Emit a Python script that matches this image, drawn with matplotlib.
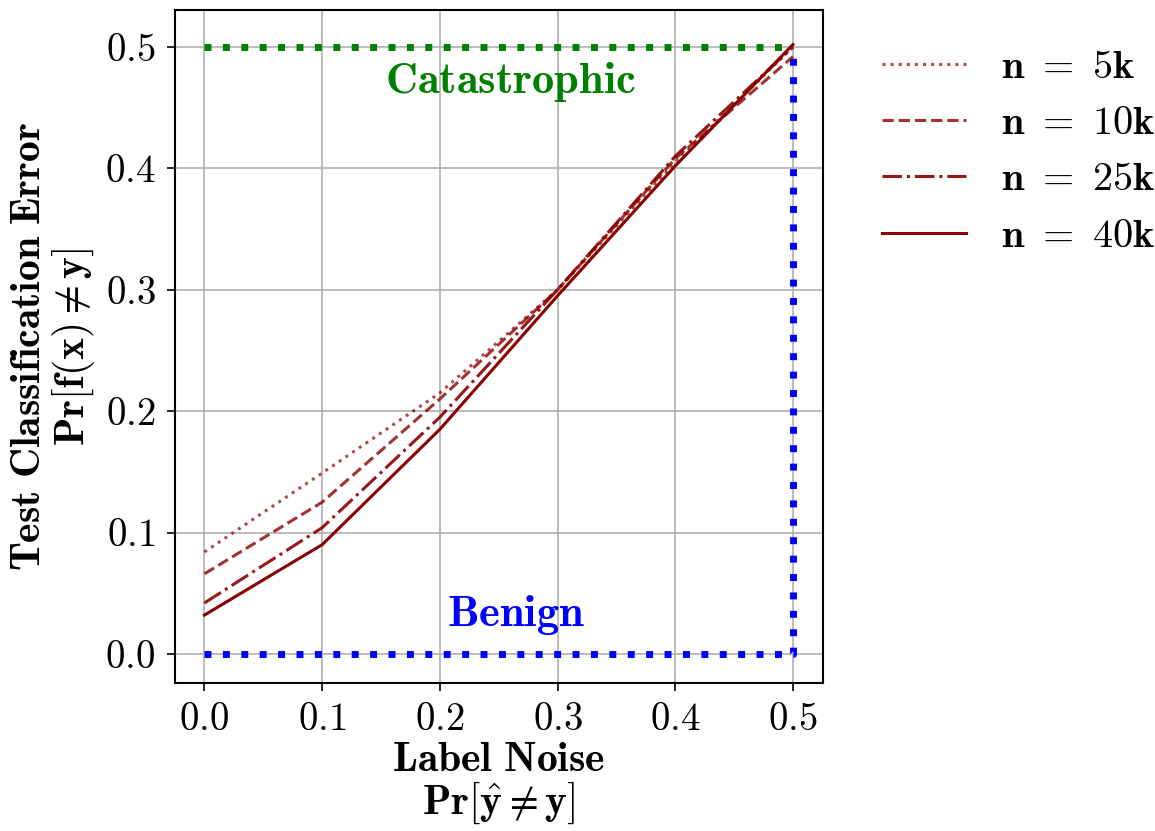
import matplotlib
matplotlib.use("Agg")
import matplotlib.pyplot as plt

plt.rcParams['mathtext.fontset'] = 'cm'
plt.rcParams['font.family'] = 'serif'
plt.rcParams['font.serif'] = ['cmr10', 'DejaVu Serif']
plt.rcParams['axes.formatter.use_mathtext'] = True

noise = [0.0, 0.1, 0.2, 0.3, 0.4, 0.5]
err_5k = [0.084, 0.149, 0.215, 0.300, 0.405, 0.500]
err_10k = [0.066, 0.125, 0.210, 0.300, 0.408, 0.492]
err_25k = [0.042, 0.104, 0.195, 0.300, 0.410, 0.500]
err_40k = [0.032, 0.090, 0.185, 0.295, 0.402, 0.502]
series_labels = [r'$\mathbf{n}\ =\ \mathbf{5k}$', r'$\mathbf{n}\ =\ \mathbf{10k}$',
                 r'$\mathbf{n}\ =\ \mathbf{25k}$', r'$\mathbf{n}\ =\ \mathbf{40k}$']

ticks = [0.0, 0.1, 0.2, 0.3, 0.4, 0.5]
tick_labels = [r'$0.0$', r'$0.1$', r'$0.2$', r'$0.3$', r'$0.4$', r'$0.5$']

fig = plt.figure(figsize=(11.55, 8.31), dpi=100)
ax = fig.add_axes([0.1515, 0.178, 0.561, 0.81])

# reference regimes
ax.plot([0.0, 0.5], [0.5, 0.5], color='green', linestyle=':', lw=5, zorder=2)
ax.plot([0.0, 0.5, 0.5], [0.0, 0.0, 0.5], color='blue', linestyle=':', lw=5, zorder=2)

styles = [':', '--', '-.', '-']
alphas = [0.7, 0.8, 0.9, 1.0]
for ys, ls, a, lab in zip([err_5k, err_10k, err_25k, err_40k], styles, alphas, series_labels):
    ax.plot(noise, ys, color='darkred', linestyle=ls, alpha=a, lw=2.2, label=lab, zorder=3)

ax.text(0.26, 0.471, r'$\mathbf{Catastrophic}$', color='green', fontsize=32,
        ha='center', va='center')
ax.text(0.265, 0.032, r'$\mathbf{Benign}$', color='blue', fontsize=32,
        ha='center', va='center')

ax.set_xlim(-0.025, 0.5255)
ax.set_ylim(-0.024, 0.5305)
ax.set_xticks(ticks)
ax.set_xticklabels(tick_labels)
ax.set_yticks(ticks)
ax.set_yticklabels(tick_labels)
ax.tick_params(labelsize=28, length=6, width=1.2, pad=8)
ax.grid(True, color='#b0b0b0', lw=1.2)
ax.set_axisbelow(True)
for s in ax.spines.values():
    s.set_linewidth(1.5)

ax.set_xlabel(r'$\mathbf{Label\ Noise}$' + '\n' + r'$\mathbf{Pr}[\hat{\mathbf{y}} \neq \mathbf{y}]$',
              fontsize=30, linespacing=1.05, labelpad=2)
ax.set_ylabel(r'$\mathbf{Test\ Classification\ Error}$' + '\n' + r'$\mathbf{Pr}[\mathbf{f}(\mathbf{x}) \neq \mathbf{y}]$',
              fontsize=30, linespacing=1.05, labelpad=6)

ax.legend(loc='upper left', bbox_to_anchor=(1.035, 0.995), frameon=False, fontsize=29,
          handlelength=2.1, labelspacing=0.5, handletextpad=0.85)

fig.savefig('out.png', dpi=100)
